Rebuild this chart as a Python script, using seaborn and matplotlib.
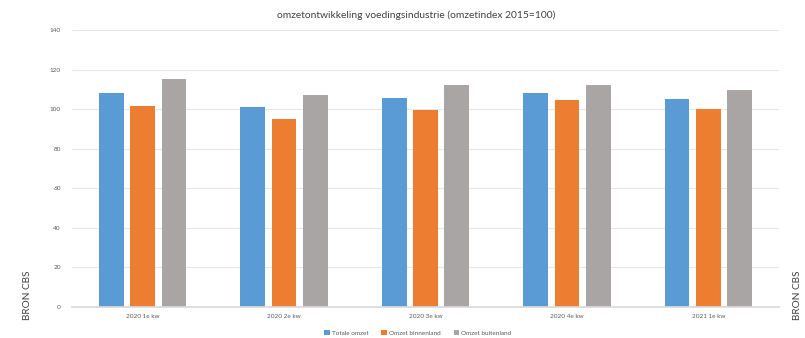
import matplotlib
matplotlib.use("Agg")
import matplotlib.pyplot as plt
import seaborn as sns
import pandas as pd

categories = ["2020 1e kw", "2020 2e kw", "2020 3e kw", "2020 4e kw", "2021 1e kw"]
series_names = ["Totale omzet", "Omzet binnenland", "Omzet buitenland"]
totale = [108.2, 101.0, 105.7, 108.3, 105.1]
binnenland = [101.4, 94.8, 99.5, 104.6, 100.2]
buitenland = [115.2, 107.0, 112.2, 112.2, 109.8]
colors = ["#5B9BD5", "#ED7D31", "#A9A5A5"]

rows = []
for name, vals in zip(series_names, [totale, binnenland, buitenland]):
    for c, v in zip(categories, vals):
        rows.append({"kw": c, "serie": name, "waarde": v})
df = pd.DataFrame(rows)

sns.set_theme(style="white")
plt.rcParams["font.family"] = ["Lato", "DejaVu Sans"]

fig = plt.figure(figsize=(8.05, 3.38), dpi=100)
ax = fig.add_axes([72/805, 1-307/338, (779-72)/805, (307-30)/338])

sns.barplot(data=df, x="kw", y="waarde", hue="serie", order=categories,
            hue_order=series_names, palette=colors, width=0.664, gap=0.21,
            saturation=1, ax=ax, legend=True, linewidth=0)

ax.set_ylim(0, 140)
ax.set_xlim(-0.5, 4.5)
ax.set_yticks(range(0, 141, 20))
ax.yaxis.grid(True, color="#E6E6E6", linewidth=0.8)
ax.set_axisbelow(True)
for s in ["top", "right", "left"]:
    ax.spines[s].set_visible(False)
ax.spines["bottom"].set_color("#D9D9D9")
ax.tick_params(axis="x", length=0, labelsize=4.6, colors="#595959", pad=5)
ax.tick_params(axis="y", length=0, labelsize=4.6, colors="#595959", pad=8)
ax.set_xlabel("")
ax.set_ylabel("")

ax.legend(loc="center", bbox_to_anchor=(418/805, 1-333/338),
          bbox_transform=fig.transFigure, ncol=3, frameon=False,
          fontsize=4.6, handlelength=0.8, handleheight=0.8, handletextpad=0.4,
          columnspacing=2.0, labelcolor="#595959", borderpad=0)

fig.text(416/805, 1-15/338, "omzetontwikkeling voedingsindustrie (omzetindex 2015=100)",
         ha="center", va="center", fontsize=7.4, color="#404040")

fig.text(28/805, 1-295/338, "BRON CBS", rotation=90, ha="center", va="center",
         fontsize=7.2, color="#404040")
fig.text(797/805, 1-295/338, "BRON CBS", rotation=90, ha="center", va="center",
         fontsize=7.2, color="#404040")

fig.savefig("out.png", dpi=100, facecolor="white")
